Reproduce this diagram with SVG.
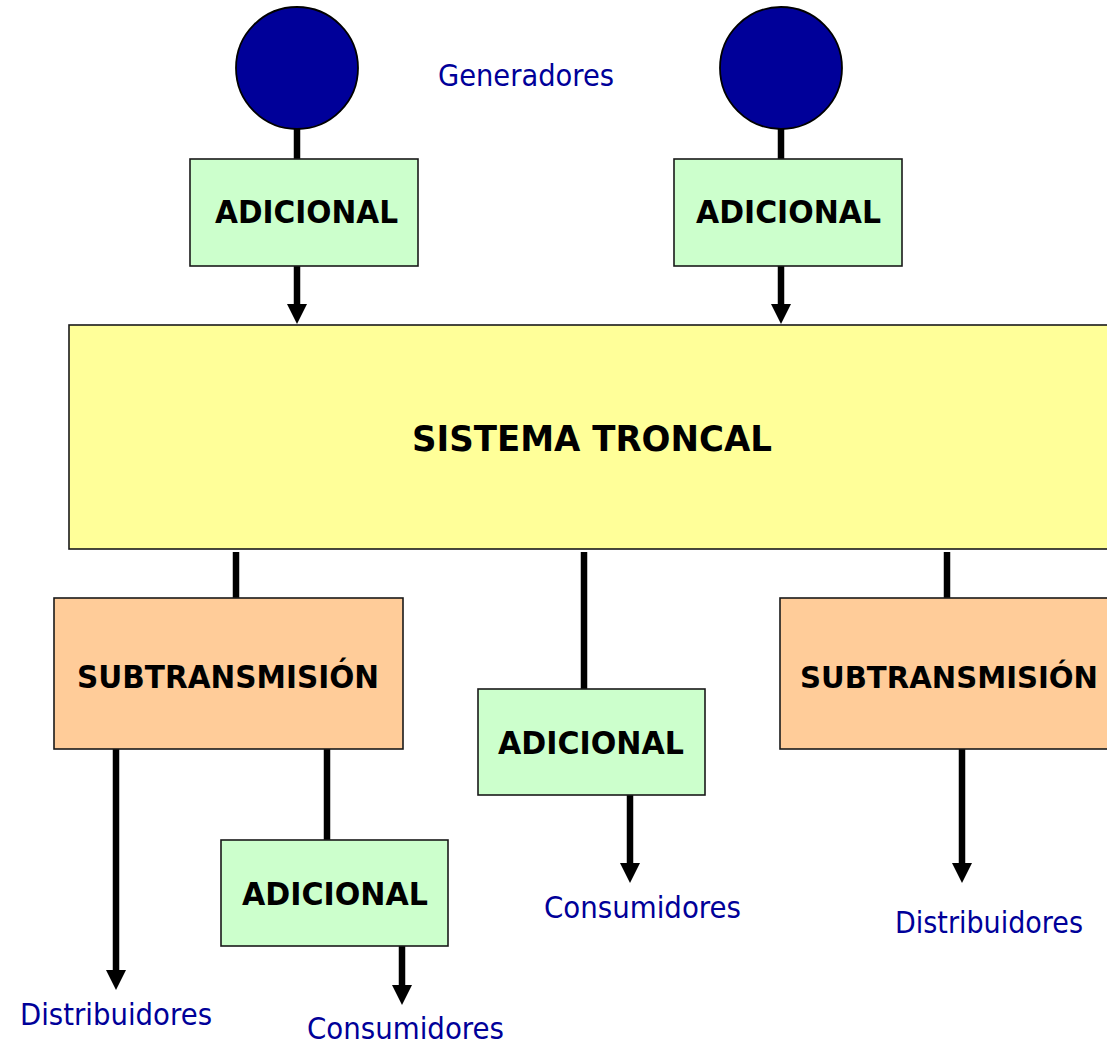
<svg xmlns="http://www.w3.org/2000/svg" width="1107" height="1045" viewBox="0 0 1107 1045">
<style>
.box{stroke:#1a1a1a;stroke-width:1.6}
.add{fill:#CCFFCC}
.trunk{fill:#FFFF99}
.sub{fill:#FFCC99}
.gen{fill:#000099;stroke:#000;stroke-width:1.8}
.lbl{font-family:"DejaVu Sans","Liberation Sans",sans-serif;font-weight:bold;fill:#000}
.blue{font-family:"DejaVu Sans","Liberation Sans",sans-serif;fill:#000099;font-size:30px}
.wire{stroke:#000;stroke-width:6.5;fill:none}
.arr{marker-end:url(#ah)}
</style>
<defs>
<marker id="ah" markerUnits="userSpaceOnUse" viewBox="0 0 20 20" refX="6" refY="10" markerWidth="20" markerHeight="20" orient="auto">
<path d="M0,0 L20,10 L0,20 z" fill="#000"/>
</marker>
</defs>
<g id="connectors">
<line class="wire" x1="297" y1="128" x2="297" y2="160"/>
<line class="wire" x1="781" y1="128" x2="781" y2="160"/>
<line class="wire arr" x1="297" y1="265" x2="297" y2="310"/>
<line class="wire arr" x1="781" y1="265" x2="781" y2="310"/>
<line class="wire" x1="236" y1="552" x2="236" y2="598"/>
<line class="wire" x1="584" y1="552" x2="584" y2="689"/>
<line class="wire" x1="947" y1="552" x2="947" y2="598"/>
<line class="wire arr" x1="116" y1="749" x2="116" y2="976"/>
<line class="wire" x1="327" y1="749" x2="327" y2="840"/>
<line class="wire arr" x1="402" y1="945" x2="402" y2="991"/>
<line class="wire arr" x1="630" y1="794" x2="630" y2="869"/>
<line class="wire arr" x1="962" y1="749" x2="962" y2="869"/>
</g>
<g id="gen1"><circle class="gen" cx="297" cy="68" r="61"/></g>
<g id="gen2"><circle class="gen" cx="781" cy="68" r="61"/></g>
<g id="lbl-generadores"><text class="blue" x="438" y="86" textLength="176" lengthAdjust="spacingAndGlyphs">Generadores</text></g>
<g id="adicional1">
<rect class="box add" x="190" y="159" width="228" height="107"/>
<text class="lbl" x="215" y="223" font-size="32" textLength="183" lengthAdjust="spacingAndGlyphs">ADICIONAL</text>
</g>
<g id="adicional2">
<rect class="box add" x="674" y="159" width="228" height="107"/>
<text class="lbl" x="696" y="223" font-size="32" textLength="185" lengthAdjust="spacingAndGlyphs">ADICIONAL</text>
</g>
<g id="troncal">
<rect class="box trunk" x="69" y="325" width="1060" height="224"/>
<text class="lbl" x="412" y="451" font-size="36" textLength="360" lengthAdjust="spacingAndGlyphs">SISTEMA TRONCAL</text>
</g>
<g id="sub1">
<rect class="box sub" x="54" y="598" width="349" height="151"/>
<text class="lbl" x="77" y="688" font-size="32" textLength="302" lengthAdjust="spacingAndGlyphs">SUBTRANSMISIÓN</text>
</g>
<g id="sub2">
<rect class="box sub" x="780" y="598" width="360" height="151"/>
<text class="lbl" x="800" y="688" font-size="30" textLength="298" lengthAdjust="spacingAndGlyphs">SUBTRANSMISIÓN</text>
</g>
<g id="adicional3">
<rect class="box add" x="478" y="689" width="227" height="106"/>
<text class="lbl" x="498" y="754" font-size="32" textLength="186" lengthAdjust="spacingAndGlyphs">ADICIONAL</text>
</g>
<g id="adicional4">
<rect class="box add" x="221" y="840" width="227" height="106"/>
<text class="lbl" x="242" y="905" font-size="32" textLength="186" lengthAdjust="spacingAndGlyphs">ADICIONAL</text>
</g>
<g id="lbl-consumidores1"><text class="blue" x="544" y="918" textLength="197" lengthAdjust="spacingAndGlyphs">Consumidores</text></g>
<g id="lbl-distribuidores1"><text class="blue" x="895" y="933" textLength="188" lengthAdjust="spacingAndGlyphs">Distribuidores</text></g>
<g id="lbl-distribuidores2"><text class="blue" x="20" y="1025" textLength="192" lengthAdjust="spacingAndGlyphs">Distribuidores</text></g>
<g id="lbl-consumidores2"><text class="blue" x="307" y="1039" textLength="197" lengthAdjust="spacingAndGlyphs">Consumidores</text></g>
</svg>
